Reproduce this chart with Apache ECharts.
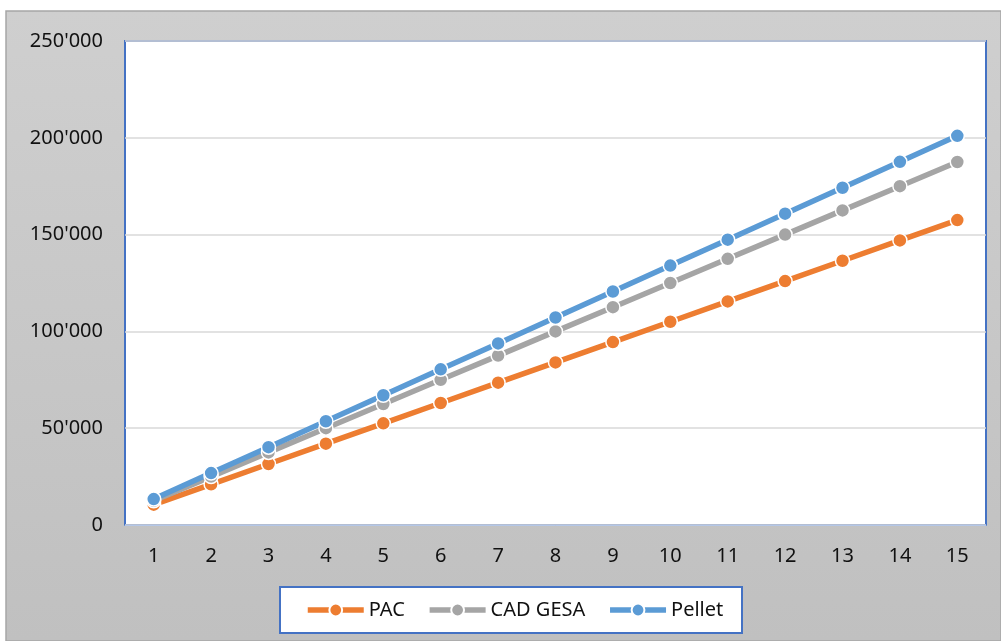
<!DOCTYPE html>
<html>
<head>
<meta charset="utf-8">
<script src="https://cdn.jsdelivr.net/npm/echarts@6/dist/echarts.min.js"></script>
<style>
html,body{margin:0;padding:0;background:#fff;}
#c{width:1001px;height:641px;}
</style>
</head>
<body>
<div id="c"></div>
<script>
const categories = ['1','2','3','4','5','6','7','8','9','10','11','12','13','14','15'];
const pac = [10500,21000,31500,42000,52500,63000,73500,84000,94500,105000,115500,126000,136500,147000,157500];
const cadGesa = [12500,25000,37500,50000,62500,75000,87500,100000,112500,125000,137500,150000,162500,175000,187500];
const pellet = [13400,26800,40200,53600,67000,80400,93800,107200,120600,134000,147400,160800,174200,187600,201000];
const seriesNames = ['PAC','CAD GESA','Pellet'];
const colors = ['#ED7D31','#A5A5A5','#5B9BD5'];

const chart = echarts.init(document.getElementById('c'));
const font = 'Noto Sans';
function fmt(v){ return String(v).replace(/\B(?=(\d{3})+(?!\d))/g, "'"); }
function mk(name, data, color){
  return {
    name: name, type: 'line', data: data,
    symbol: 'circle', symbolSize: 14, showSymbol: true,
    lineStyle: {width: 5.5, color: color},
    itemStyle: {color: color, borderColor: '#fff', borderWidth: 1.5},
    emphasis: {disabled: true}, animation: false
  };
}
chart.setOption({
  animation: false,
  backgroundColor: '#fff',
  textStyle: {fontFamily: font},
  graphic: [
    {type: 'rect', z: -10, shape: {x: 6, y: 11, width: 995, height: 630},
     style: {fill: {type: 'linear', x: 0, y: 0, x2: 0, y2: 1, colorStops: [{offset: 0, color: '#cfcfcf'}, {offset: 1, color: '#c0c0c0'}]},
             stroke: '#a6a6a6', lineWidth: 1.5}},
    {type: 'rect', z: -5, shape: {x: 280, y: 587, width: 462, height: 46},
     style: {fill: '#fff', stroke: '#4472C4', lineWidth: 2}}
  ],
  grid: {left: 125, top: 41, right: 15, bottom: 116, show: true, backgroundColor: '#fff', borderColor: '#4472C4', borderWidth: 2},
  legend: {
    left: 305, top: 600, padding: 0, itemWidth: 56, itemHeight: 16, itemGap: 22,
    data: seriesNames,
    lineStyle: {width: 5.5},
    textStyle: {fontFamily: font, fontSize: 20, color: '#111'}
  },
  xAxis: {
    type: 'category', data: categories, boundaryGap: true,
    axisLine: {show: true, lineStyle: {color: '#b4c7e7', width: 1}},
    axisTick: {show: false},
    axisLabel: {fontFamily: font, fontSize: 20, color: '#111', margin: 21}
  },
  yAxis: {
    type: 'value', min: 0, max: 250000, interval: 50000,
    axisLine: {show: false}, axisTick: {show: false},
    splitLine: {lineStyle: {color: '#d9d9d9', width: 1.5}},
    axisLabel: {fontFamily: font, fontSize: 20, color: '#111', margin: 22, formatter: fmt}
  },
  series: [mk(seriesNames[0], pac, colors[0]), mk(seriesNames[1], cadGesa, colors[1]), mk(seriesNames[2], pellet, colors[2])]
});
</script>
</body>
</html>
